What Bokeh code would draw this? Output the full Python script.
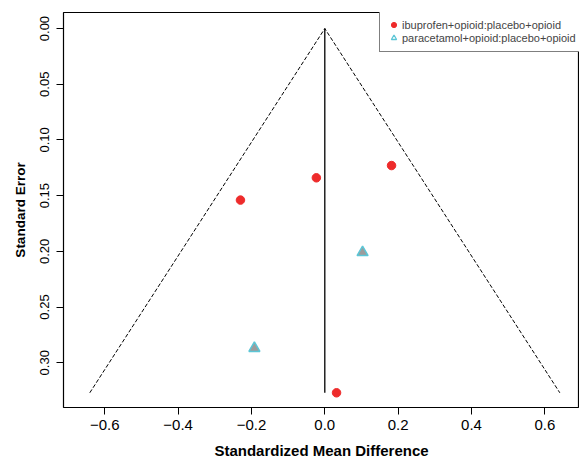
from bokeh.plotting import figure
from bokeh.models import Range1d, FixedTicker, Legend, LegendItem
from bokeh.embed import file_html
from bokeh.resources import INLINE

# ---- data ----
ibu_smd = [0.182, -0.023, -0.230, 0.032]
ibu_se = [0.123, 0.134, 0.154, 0.327]
para_smd = [0.103, -0.192]
para_se = [0.201, 0.287]
se_max = 0.327
series_labels = ["ibuprofen+opioid:placebo+opioid", "paracetamol+opioid:placebo+opioid"]
x_ticks = [-0.6, -0.4, -0.2, 0.0, 0.2, 0.4, 0.6]
x_tick_labels = ["\u22120.6", "\u22120.4", "\u22120.2", "0.0", "0.2", "0.4", "0.6"]
y_ticks = [0.0, 0.05, 0.10, 0.15, 0.20, 0.25, 0.30]
y_tick_labels = ["0.00", "0.05", "0.10", "0.15", "0.20", "0.25", "0.30"]

FONT = "Liberation Sans"
RED = "#ee2b2b"
CYAN = "#5cc6d6"
GRAY = "#9c9c9c"

p = figure(width=579, height=462, output_backend="svg", toolbar_location=None,
           x_range=Range1d(-0.7126, 0.6946), y_range=Range1d(0.3402, -0.0144),
           min_border_left=63, min_border_right=0, min_border_top=12, min_border_bottom=55)
p.background_fill_color = "white"
p.border_fill_color = "white"
p.outline_line_color = "black"
p.outline_line_width = 1.2
p.xgrid.visible = False
p.ygrid.visible = False

# funnel
fx = [-1.96 * se_max, 0.0, 1.96 * se_max]
fy = [se_max, 0.0, se_max]
p.line(fx, fy, line_color="black", line_width=1, line_dash="4 2")
p.line([0.0, 0.0], [0.0, se_max], line_color="black", line_width=1.3)

r1 = p.scatter(ibu_smd, ibu_se, marker="circle", size=8.5, fill_color=RED, line_color=RED)
# legend-only open triangle (hidden beneath the filled triangles)
r2_leg = p.scatter(para_smd, para_se, marker="triangle", size=8, fill_color=None,
                   line_color=CYAN, line_width=1.3)
r2 = p.scatter(para_smd, para_se, marker="triangle", size=11, fill_color=GRAY,
               line_color=CYAN, line_width=1.5)

# axes
for ax in (p.xaxis[0], p.yaxis[0]):
    ax.axis_line_color = None
    ax.major_tick_out = 7
    ax.major_tick_in = 0
    ax.minor_tick_line_color = None
    ax.major_tick_line_color = "black"
    ax.major_label_text_font = FONT
    ax.major_label_text_color = "black"
    ax.axis_label_text_font = FONT
    ax.axis_label_text_font_style = "bold"
    ax.axis_label_text_color = "black"

p.xaxis.major_label_text_font_size = "15px"
p.xaxis.axis_label_text_font_size = "15px"
p.yaxis.major_label_text_font_size = "13px"
p.yaxis.axis_label_text_font_size = "13.5px"

p.xaxis.ticker = FixedTicker(ticks=x_ticks)
p.xaxis.major_label_overrides = dict(zip(x_ticks, x_tick_labels))
p.yaxis.ticker = FixedTicker(ticks=y_ticks)
p.yaxis.major_label_overrides = dict(zip(y_ticks, y_tick_labels))
p.yaxis.major_label_orientation = "vertical"
p.xaxis.axis_label = "Standardized Mean Difference"
p.yaxis.axis_label = "Standard Error"
p.xaxis.major_label_standoff = 5
p.xaxis.axis_label_standoff = 9
p.yaxis.major_label_standoff = 7
p.yaxis.axis_label_standoff = 10

legend = Legend(items=[LegendItem(label=series_labels[0], renderers=[r1]),
                       LegendItem(label=series_labels[1], renderers=[r2_leg])],
                location=(316, 355), margin=0, padding=7, spacing=0,
                glyph_width=13, glyph_height=13, label_height=13, label_standoff=2,
                label_text_font=FONT, label_text_font_size="11px",
                border_line_color="black", border_line_width=1,
                background_fill_color="white", background_fill_alpha=1.0)
p.add_layout(legend)

open("out.html", "w").write(file_html(p, INLINE))
